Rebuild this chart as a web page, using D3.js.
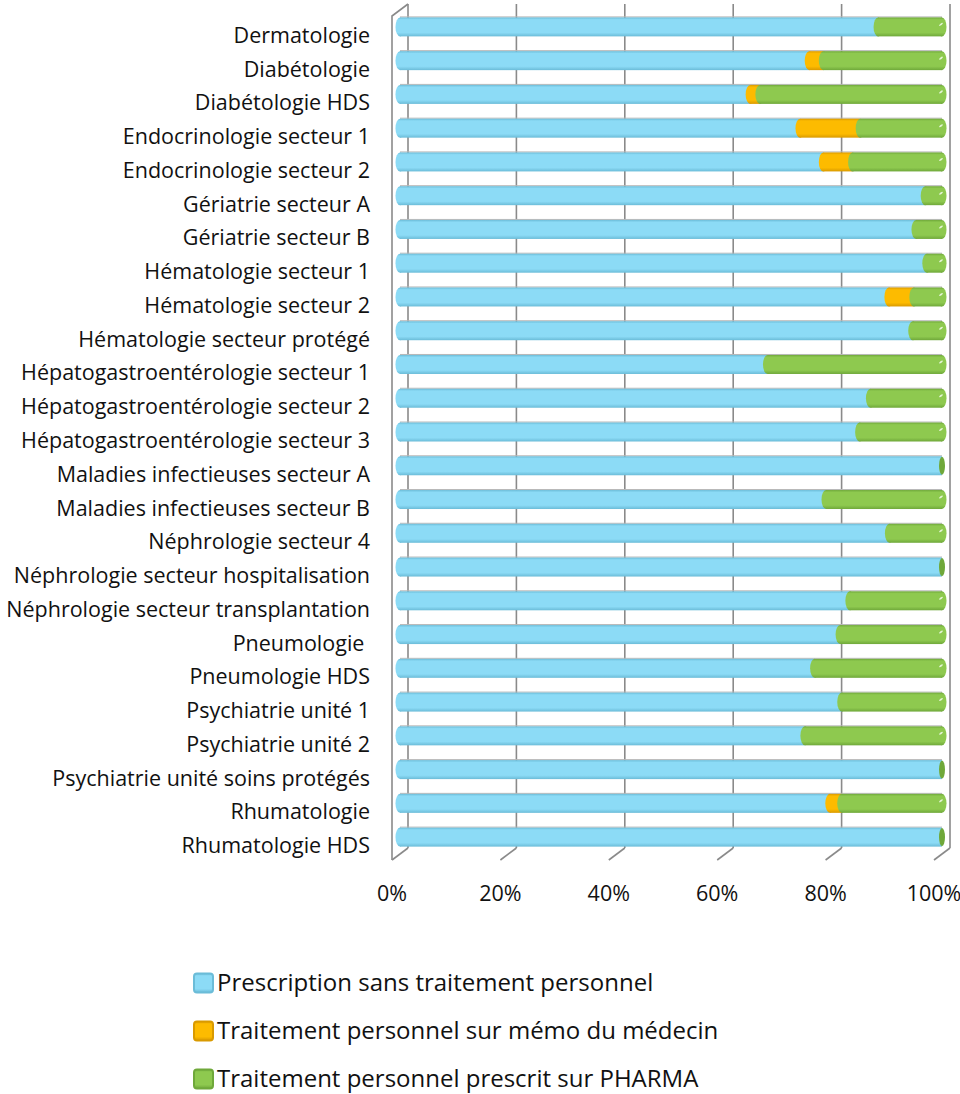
<!DOCTYPE html>
<html>
<head>
<meta charset="utf-8">
<script src="https://cdn.jsdelivr.net/npm/d3@7"></script>
<style>
  body { margin: 0; background: #fff; }
  text { font-family: "Open Sans", Lato, sans-serif; fill: #111; }
</style>
</head>
<body>
<div id="chart"></div>
<script>
// Services (top to bottom)
const services = [
  "Dermatologie", "Diabétologie", "Diabétologie HDS", "Endocrinologie secteur 1",
  "Endocrinologie secteur 2", "Gériatrie secteur A", "Gériatrie secteur B",
  "Hématologie secteur 1", "Hématologie secteur 2", "Hématologie secteur protégé",
  "Hépatogastroentérologie secteur 1", "Hépatogastroentérologie secteur 2",
  "Hépatogastroentérologie secteur 3", "Maladies infectieuses secteur A",
  "Maladies infectieuses secteur B", "Néphrologie secteur 4",
  "Néphrologie secteur hospitalisation", "Néphrologie secteur transplantation",
  "Pneumologie ", "Pneumologie HDS", "Psychiatrie unité 1", "Psychiatrie unité 2",
  "Psychiatrie unité soins protégés", "Rhumatologie", "Rhumatologie HDS"
];

// Share of prescriptions (%)
const sansTraitement = [88.2, 75.5, 64.6, 73.8, 78.1, 96.9, 95.2, 97.2, 90.2, 94.6,
  67.8, 86.8, 84.8, 100, 78.6, 90.3, 100, 83.0, 81.2, 76.5, 81.5, 74.7, 100, 79.3, 100];
const memoMedecin = [0, 2.6, 1.8, 11.1, 5.4, 0, 0, 0, 4.6, 0,
  0, 0, 0, 0, 0, 0, 0, 0, 0, 0, 0, 0, 0, 2.2, 0];
const prescritPharma = [11.8, 21.9, 33.6, 15.1, 16.5, 3.1, 4.8, 2.8, 5.2, 5.4,
  32.2, 13.2, 15.2, 0, 21.4, 9.7, 0, 17.0, 18.8, 23.5, 18.5, 25.3, 0, 18.5, 0];

const seriesNames = [
  "Prescription sans traitement personnel",
  "Traitement personnel sur mémo du médecin",
  "Traitement personnel prescrit sur PHARMA"
];
const tickValues = [0, 20, 40, 60, 80, 100];

const colors = ["#8cdbf6", "#fdbb00", "#8ec94f"];
const darkColors = ["#6bbcd8", "#d99a00", "#6fa83a"];

const width = 960, height = 1094;
const depth = { dx: -16, dy: 12 }; // back wall -> front plane offset

const svg = d3.select("#chart").append("svg")
  .attr("width", width).attr("height", height);

// gradients for the cylinder look
const defs = svg.append("defs");
colors.forEach((c, i) => {
  const g = defs.append("linearGradient").attr("id", "grad" + i)
    .attr("x1", 0).attr("y1", 0).attr("x2", 0).attr("y2", 1);
  g.append("stop").attr("offset", "0%").attr("stop-color", darkColors[i]);
  g.append("stop").attr("offset", "12%").attr("stop-color", c);
  g.append("stop").attr("offset", "80%").attr("stop-color", c);
  g.append("stop").attr("offset", "100%").attr("stop-color", darkColors[i]);
});

// scales: back wall, bars sit half way to the front plane
const xBack = d3.scaleLinear().domain([0, 100]).range([408, 950]);
const xBar = v => xBack(v) + depth.dx / 2;
const xFront = v => xBack(v) + depth.dx;

const yBack = d3.scaleBand().domain(services).range([4, 848]);
const barH = 19;
const barY = s => yBack(s) + yBack.bandwidth() / 2 + depth.dy / 2;

const wallTop = yBack.range()[0], wallBottom = yBack.range()[1];

// walls and gridlines
const grid = svg.append("g").attr("stroke", "#8a8a8a").attr("stroke-width", 1.6).attr("fill", "none");
grid.selectAll("line.grid").data(tickValues).join("line")
  .attr("class", "grid")
  .attr("x1", d => xBack(d)).attr("x2", d => xBack(d))
  .attr("y1", wallTop).attr("y2", wallBottom);
grid.selectAll("line.slant").data(tickValues).join("line")
  .attr("class", "slant")
  .attr("x1", d => xBack(d)).attr("y1", wallBottom)
  .attr("x2", d => xFront(d)).attr("y2", wallBottom + depth.dy);
// left side wall
grid.append("polyline")
  .attr("points", [[xBack(0), wallTop], [xFront(0), wallTop + depth.dy], [xFront(0), wallBottom + depth.dy]].join(" "));

// stacked data
const rows = services.map((s, i) => {
  const vals = [sansTraitement[i], memoMedecin[i], prescritPharma[i]];
  let acc = 0;
  const segs = vals.map((v, k) => {
    const seg = { k, x0: acc, x1: acc + v, v };
    acc += v;
    return seg;
  });
  return { s, segs, total: acc, last: vals[2] };
});

const rx = 4.5;
const bars = svg.append("g").selectAll("g").data(rows).join("g")
  .attr("transform", d => `translate(0,${barY(d.s)})`);

// faint shadow line above each bar
bars.append("line")
  .attr("x1", xBar(0)).attr("x2", xBar(100))
  .attr("y1", -barH / 2 - 0.5).attr("y2", -barH / 2 - 0.5)
  .attr("stroke", "#b8b8b8").attr("stroke-width", 1);

bars.each(function (d) {
  const g = d3.select(this);
  d.segs.filter(sg => sg.v > 0).forEach(sg => {
    g.append("rect")
      .attr("x", xBar(sg.x0)).attr("y", -barH / 2)
      .attr("width", xBar(sg.x1) - xBar(sg.x0)).attr("height", barH)
      .attr("fill", `url(#grad${sg.k})`);
    g.append("ellipse")
      .attr("cx", xBar(sg.x0)).attr("cy", 0)
      .attr("rx", rx).attr("ry", barH / 2)
      .attr("fill", `url(#grad${sg.k})`);
  });
  // end cap of the cylinder
  const endX = xBar(d.total);
  if (d.last > 0) {
    g.append("ellipse")
      .attr("cx", endX).attr("cy", 0).attr("rx", rx).attr("ry", barH / 2)
      .attr("fill", `url(#grad2)`);
    g.append("ellipse")
      .attr("cx", endX - 1).attr("cy", -2.5).attr("rx", 2.2).attr("ry", 0.9)
      .attr("transform", `rotate(-35,${endX - 1},-2.5)`)
      .attr("fill", "#eef8e4").attr("opacity", 0.9);
  } else {
    g.append("ellipse")
      .attr("cx", endX).attr("cy", 0).attr("rx", 3).attr("ry", barH / 2 - 0.5)
      .attr("fill", darkColors[2]);
  }
});

// category labels
svg.append("g").selectAll("text").data(services).join("text")
  .attr("x", 370)
  .attr("y", d => yBack(d) + yBack.bandwidth() / 2 + 22)
  .attr("text-anchor", "end")
  .attr("font-size", 21.5)
  .style("white-space", "pre")
  .text(d => d);

// axis tick labels on the front plane
svg.append("g").selectAll("text").data(tickValues).join("text")
  .attr("x", d => xFront(d))
  .attr("y", 901)
  .attr("text-anchor", "middle")
  .attr("font-size", 21.5)
  .text(d => d + "%");

// legend
const legend = svg.append("g").selectAll("g").data(seriesNames).join("g")
  .attr("transform", (d, i) => `translate(193,${983 + i * 48})`);
legend.append("rect")
  .attr("x", 1).attr("y", -9.5).attr("width", 19).attr("height", 19).attr("rx", 3)
  .attr("fill", (d, i) => `url(#grad${i})`)
  .attr("stroke", (d, i) => darkColors[i]).attr("stroke-width", 2);
legend.append("text")
  .attr("x", 24).attr("y", 8)
  .attr("font-size", 24)
  .text(d => d);
</script>
</body>
</html>
